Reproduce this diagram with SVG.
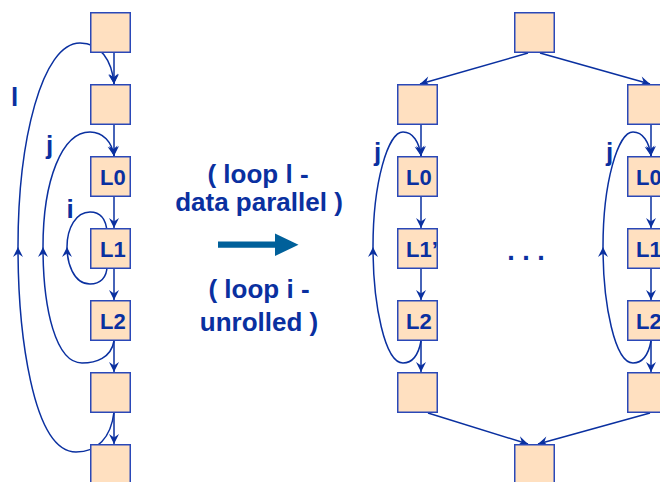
<svg xmlns="http://www.w3.org/2000/svg" width="660" height="482" viewBox="0 0 660 482">
<style>
.box{fill:#FFE0C0;stroke:#2A48B8;stroke-width:1.5}
.ln{fill:none;stroke:#0A30A0;stroke-width:1.5}
.arr{marker-end:url(#ah)}
.lbl{font-family:"Liberation Sans",Arial,sans-serif;font-weight:bold;fill:#0A30A0}
.t22{font-size:22px}
.t26{font-size:26px}
.mid{text-anchor:middle}
</style>
<defs>
<marker id="ah" viewBox="-11 -6 12 12" refX="0" refY="0" markerWidth="12" markerHeight="12" markerUnits="userSpaceOnUse" orient="auto">
<path d="M0,0 L-10,-5 L-6.5,0 L-10,5 Z" fill="#0A30A0"/>
</marker>
</defs>
<rect width="660" height="482" fill="#fff"/>
<g id="connectors">
<!-- left diagram straight arrows -->
<path class="ln arr" d="M114,53 V84"/>
<path class="ln arr" d="M114,125 V156"/>
<path class="ln arr" d="M114,197 V228"/>
<path class="ln arr" d="M114,269 V300"/>
<path class="ln arr" d="M114,341 V372"/>
<path class="ln arr" d="M114,413 V444"/>
<!-- loop l -->
<path class="ln arr" d="M114,412 C111,438 97,452 76,452 C32,452 18,330 18,247"/>
<path class="ln arr" d="M18,247 C18,140 42,43 80,43 C100,43 112,60 114,84"/>
<!-- loop j -->
<path class="ln arr" d="M114,341 C111,358 96,363 82,363 C56,363 43,310 43,247"/>
<path class="ln arr" d="M43,247 C43,180 62,132 90,132 C103,132 112,142 114,156"/>
<!-- loop i -->
<path class="ln arr" d="M107,266 C107,278 100,284 90,284 C73,284 67,262 67,247"/>
<path class="ln" d="M67,247 C67,228 76,212 90,212 C100,212 106,218 107,232"/>
<!-- right diagram fan out / in -->
<path class="ln arr" d="M528,53 L420,84"/>
<path class="ln arr" d="M540,53 L650,84"/>
<path class="ln arr" d="M428,413 L528,444"/>
<path class="ln arr" d="M650,413 L538,444"/>
<!-- right column A -->
<path class="ln arr" d="M421,125 V156"/>
<path class="ln arr" d="M421,197 V228"/>
<path class="ln arr" d="M421,269 V300"/>
<path class="ln arr" d="M421,341 V372"/>
<path class="ln arr" d="M421,341 C418,357 411,363 403,363 C385,363 373,305 373,247"/>
<path class="ln arr" d="M373,247 C373,182 388,132 403,132 C413,132 419,142 421,156"/>
<!-- right column B -->
<path class="ln arr" d="M651,125 V156"/>
<path class="ln arr" d="M651,197 V228"/>
<path class="ln arr" d="M651,269 V300"/>
<path class="ln arr" d="M651,341 V372"/>
<path class="ln arr" d="M651,341 C648,357 641,363 633,363 C615,363 603,305 603,247"/>
<path class="ln arr" d="M603,247 C603,182 618,132 633,132 C643,132 649,142 651,156"/>
</g>
<!-- left diagram nodes -->
<g id="nA1"><rect class="box" x="90.75" y="12.75" width="39.5" height="39.5"/></g>
<g id="nA2"><rect class="box" x="90.75" y="84.75" width="39.5" height="39.5"/></g>
<g id="nAL0"><rect class="box" x="90.75" y="156.75" width="39.5" height="39.5"/><text class="lbl t22" x="100" y="185">L0</text></g>
<g id="nAL1"><rect class="box" x="90.75" y="228.75" width="39.5" height="39.5"/><text class="lbl t22" x="100" y="257">L1</text></g>
<g id="nAL2"><rect class="box" x="90.75" y="300.75" width="39.5" height="39.5"/><text class="lbl t22" x="100" y="329">L2</text></g>
<g id="nA5"><rect class="box" x="90.75" y="372.75" width="39.5" height="39.5"/></g>
<g id="nA6"><rect class="box" x="90.75" y="444.75" width="39.5" height="39.5"/></g>
<!-- right diagram nodes -->
<g id="nBtop"><rect class="box" x="514.75" y="12.75" width="39.5" height="39.5"/></g>
<g id="nBbot"><rect class="box" x="514.75" y="444.75" width="39.5" height="39.5"/></g>
<g id="nC1"><rect class="box" x="397.75" y="84.75" width="39.5" height="39.5"/></g>
<g id="nCL0"><rect class="box" x="397.75" y="156.75" width="39.5" height="39.5"/><text class="lbl t22" x="406" y="185">L0</text></g>
<g id="nCL1"><rect class="box" x="397.75" y="228.75" width="39.5" height="39.5"/><text class="lbl t22" x="406" y="257">L1’</text></g>
<g id="nCL2"><rect class="box" x="397.75" y="300.75" width="39.5" height="39.5"/><text class="lbl t22" x="406" y="329">L2</text></g>
<g id="nC5"><rect class="box" x="397.75" y="372.75" width="39.5" height="39.5"/></g>
<g id="nD1"><rect class="box" x="627.75" y="84.75" width="39.5" height="39.5"/></g>
<g id="nDL0"><rect class="box" x="627.75" y="156.75" width="39.5" height="39.5"/><text class="lbl t22" x="636" y="185">L0</text></g>
<g id="nDL1"><rect class="box" x="627.75" y="228.75" width="39.5" height="39.5"/><text class="lbl t22" x="636" y="257">L1</text></g>
<g id="nDL2"><rect class="box" x="627.75" y="300.75" width="39.5" height="39.5"/><text class="lbl t22" x="636" y="329">L2</text></g>
<g id="nD5"><rect class="box" x="627.75" y="372.75" width="39.5" height="39.5"/></g>
<!-- loop labels -->
<g id="labels">
<text class="lbl t26" x="11" y="106">l</text>
<text class="lbl t26" x="46" y="154">j</text>
<text class="lbl t26" x="66.5" y="218">i</text>
<text class="lbl t26" x="374" y="161">j</text>
<text class="lbl t26" x="606" y="161">j</text>
<text class="lbl t26 mid" x="258" y="183">( loop l -</text>
<text class="lbl t26 mid" x="259" y="211">data parallel )</text>
<text class="lbl t26 mid" x="259" y="298">( loop i -</text>
<text class="lbl t26 mid" x="259" y="331">unrolled )</text>
<text class="lbl mid" style="font-size:27px" x="526" y="260">. . .</text>
</g>
<g id="bigArrow">
<polygon points="218,241.5 275,241.5 275,233.5 298.5,244.7 275,256 275,247.8 218,247.8" fill="#00609A"/>
</g>
</svg>
